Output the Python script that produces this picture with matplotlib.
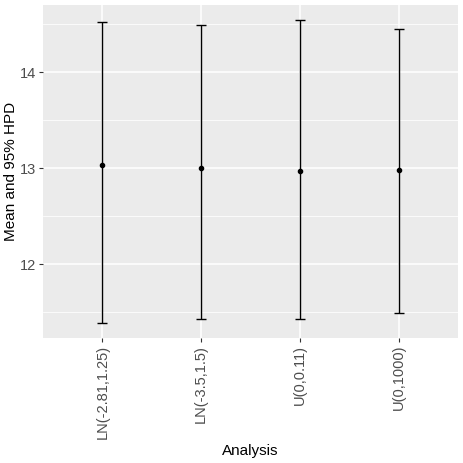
import matplotlib
matplotlib.use("Agg")
import matplotlib.pyplot as plt
import numpy as np

plt.rcParams['font.family'] = ['Liberation Sans', 'DejaVu Sans']

# Values
analyses = ["LN(-2.81,1.25)", "LN(-3.5,1.5)", "U(0,0.11)", "U(0,1000)"]
mean_vals = [13.03, 13.00, 12.97, 12.98]
hpd_lower = [11.39, 11.43, 11.43, 11.49]
hpd_upper = [14.52, 14.49, 14.54, 14.45]
y_ticks = [12, 13, 14]

mean_vals = np.array(mean_vals)
lower_err = mean_vals - np.array(hpd_lower)
upper_err = np.array(hpd_upper) - mean_vals
x = np.arange(1, len(analyses) + 1)

W = 463
fig = plt.figure(figsize=(4.63, 4.63), dpi=100)
ax = fig.add_axes([43 / W, (W - 338) / W, (458 - 43) / W, (338 - 5) / W])

ax.set_facecolor("#EBEBEB")
for s in ax.spines.values():
    s.set_visible(False)

# ggplot-like grid
for yv in y_ticks:
    ax.axhline(yv, color="white", lw=1.1, zorder=0)
for yv in [11.5, 12.5, 13.5, 14.5]:
    ax.axhline(yv, color="white", lw=0.55, zorder=0)
for xv in x:
    ax.axvline(xv, color="white", lw=1.1, zorder=0)

ax.errorbar(x, mean_vals, yerr=[lower_err, upper_err], fmt="o", color="black",
            ecolor="black", elinewidth=1.0, capsize=3.6, capthick=1.0,
            markersize=3.0, zorder=3)

# 5% expansion like ggplot
lo, hi = min(hpd_lower), max(hpd_upper)
pad = (hi - lo) * 0.05
ax.set_ylim(lo - pad, hi + pad)
ax.set_xlim(0.4, len(analyses) + 0.6)

ax.set_yticks(y_ticks)
ax.set_yticklabels([str(t) for t in y_ticks])
ax.set_xticks(x)
ax.set_xticklabels(analyses, rotation=90, va="top", ha="center")
ax.tick_params(axis="both", colors="#333333", labelsize=10.5, length=2.8,
               width=0.8, pad=2)
for lab in ax.get_xticklabels() + ax.get_yticklabels():
    lab.set_color("#4D4D4D")

ax.set_xlabel("Analysis", fontsize=11, labelpad=4)
ax.set_ylabel("Mean and 95% HPD", fontsize=11, labelpad=1.5)

plt.savefig("out.png", dpi=100)
